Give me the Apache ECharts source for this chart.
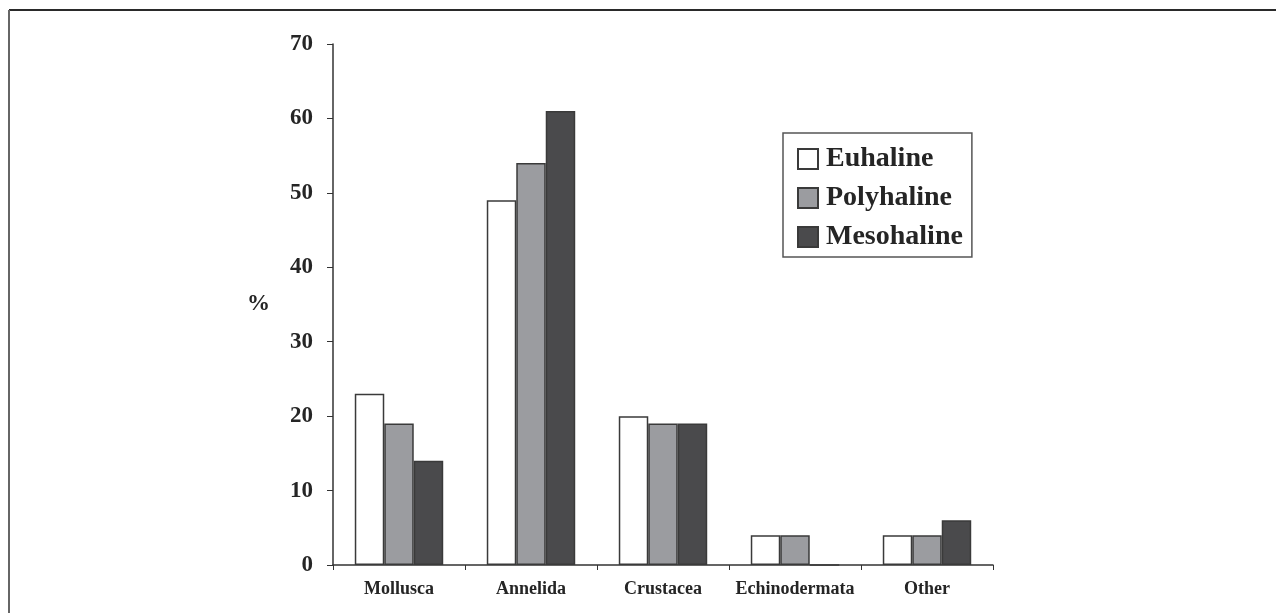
<!DOCTYPE html>
<html>
<head>
<meta charset="utf-8">
<script src="https://cdn.jsdelivr.net/npm/echarts@6/dist/echarts.min.js"></script>
<style>
  html, body { margin: 0; padding: 0; background: #fff; }
  #main { width: 1276px; height: 613px; }
</style>
</head>
<body>
<div id="main"></div>
<script>
// categories and values
var categories = ['Mollusca', 'Annelida', 'Crustacea', 'Echinodermata', 'Other'];
var euhaline = [23, 49, 20, 4, 4];
var polyhaline = [19, 54, 19, 4, 4];
var mesohaline = [14, 61, 19, 0, 6];
var yTicks = [0, 10, 20, 30, 40, 50, 60, 70];

var font = 'Liberation Serif';
var ink = '#252525';

function bar(name, data, color) {
    return {
        name: name,
        type: 'bar',
        data: data,
        barGap: 0,
        barCategoryGap: '33%',
        itemStyle: {
            color: color,
            borderColor: '#3a3a3a',
            borderWidth: 1.5
        }
    };
}

var myChart = echarts.init(document.getElementById('main'));
var option = {
    backgroundColor: '#fff',
    animation: false,
    grid: { left: 333, right: 283, top: 44, bottom: 48 },
    // frame lines top / left
    graphic: [
        { type: 'line', shape: { x1: 9, y1: 10, x2: 1276, y2: 10 }, style: { stroke: '#2a2a2a', lineWidth: 2 } },
        { type: 'line', shape: { x1: 9, y1: 10, x2: 9, y2: 613 }, style: { stroke: '#666', lineWidth: 2 } }
    ],
    legend: {
        orient: 'vertical',
        left: 783,
        top: 133,
        padding: [12, 9, 6, 14],
        itemGap: 11,
        itemWidth: 20,
        itemHeight: 20,
        icon: 'rect',
        borderColor: '#555',
        borderWidth: 1.5,
        textStyle: { fontFamily: font, fontWeight: 'bold', fontSize: 28, color: ink, padding: [0, 0, 0, 3] },
        data: ['Euhaline', 'Polyhaline', 'Mesohaline']
    },
    xAxis: {
        type: 'category',
        data: categories,
        axisLine: { lineStyle: { color: '#333', width: 1.5 } },
        axisTick: { show: true, interval: 0, length: 5, lineStyle: { color: '#333' } },
        axisLabel: { interval: 0, hideOverlap: false, margin: 15, fontFamily: font, fontWeight: 'bold', fontSize: 18, color: ink }
    },
    yAxis: {
        type: 'value',
        min: 0,
        max: 70,
        interval: 10,
        name: '%',
        nameLocation: 'middle',
        nameRotate: 0,
        nameGap: 63,
        nameTextStyle: { fontFamily: font, fontWeight: 'bold', fontSize: 23, color: ink },
        axisLine: { show: true, lineStyle: { color: '#333', width: 1.5 } },
        axisTick: { show: true, length: 6, lineStyle: { color: '#333' } },
        splitLine: { show: false },
        axisLabel: {
            margin: 20,
            fontFamily: font, fontWeight: 'bold', fontSize: 23, color: ink,
            formatter: function (v) { return yTicks.indexOf(v) >= 0 ? String(v) : ''; }
        }
    },
    series: [
        bar('Euhaline', euhaline, '#ffffff'),
        bar('Polyhaline', polyhaline, '#9b9ca0'),
        bar('Mesohaline', mesohaline, '#4a4a4c')
    ]
};
myChart.setOption(option);
window.onresize = function () { myChart.resize(); };
</script>
</body>
</html>
